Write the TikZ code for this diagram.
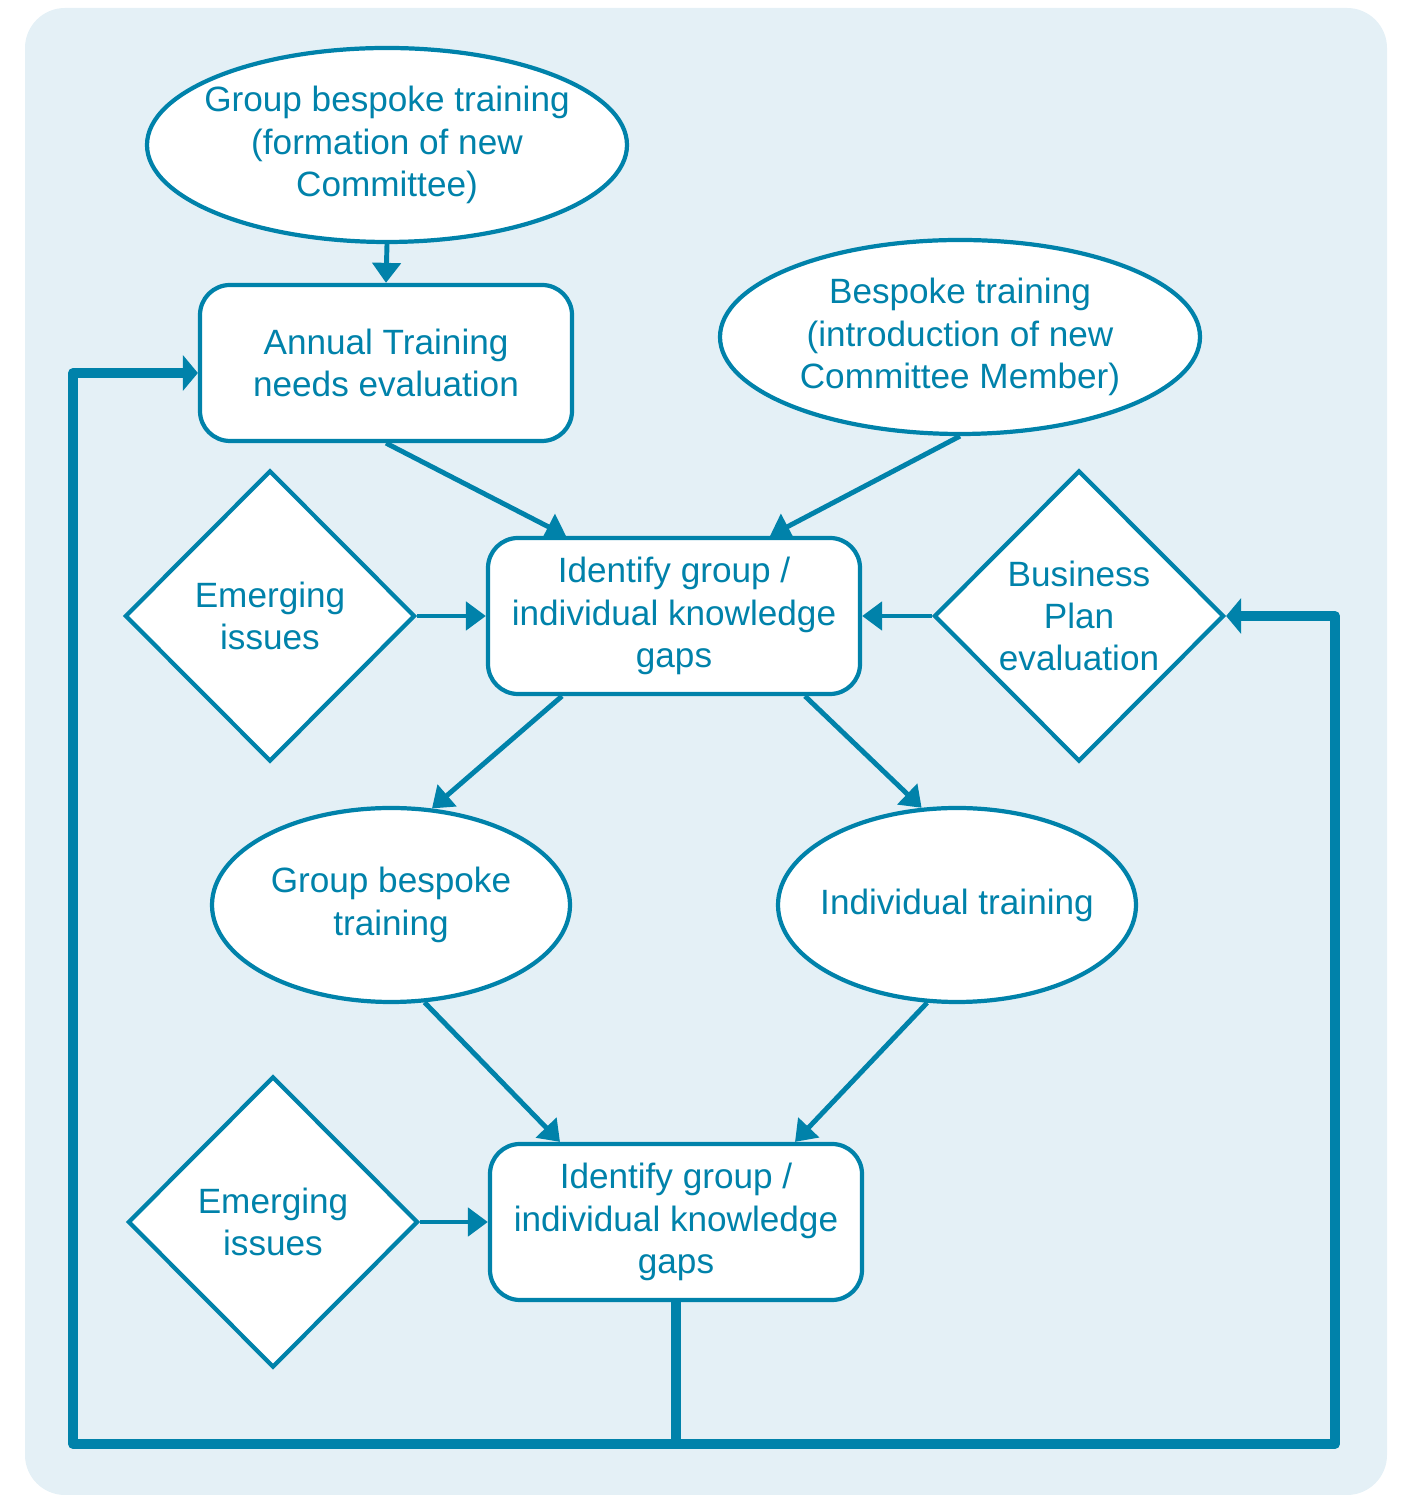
\documentclass[tikz,border=0pt]{standalone}
\usepackage{fontspec}
\setmainfont{Liberation Sans}
\usetikzlibrary{arrows.meta,calc,positioning,shapes.geometric}
\definecolor{tnblue}{HTML}{0082AA}
\definecolor{tnback}{HTML}{E4F0F6}

\begin{document}
\begin{tikzpicture}[
    every node/.style={font=\fontsize{10}{12}\selectfont, text=tnblue, align=center},
    oval/.style={ellipse, draw=tnblue, line width=1.2pt, fill=white,
                 minimum width=4.8cm, minimum height=1.94cm,
                 inner xsep=-0.6cm, inner ysep=-0.2cm},
    smalloval/.style={oval, minimum width=3.58cm},
    box/.style={rectangle, rounded corners=0.3cm, draw=tnblue, line width=1.2pt,
                fill=white, minimum width=3.72cm, minimum height=1.56cm, inner sep=0pt},
    choice/.style={diamond, draw=tnblue, line width=1.2pt, fill=white,
                   minimum width=2.9cm, minimum height=2.91cm, inner sep=0pt},
    arrow/.style={-{Triangle[length=2mm, width=2.8mm]}, line width=1.4pt, color=tnblue},
    loopline/.style={line width=2.8pt, color=tnblue, line join=round},
    looparrow/.style={loopline, -{Triangle[length=1.5mm, width=3.5mm]}}
  ]
    \useasboundingbox (0,0) rectangle (14.01,14.95);
    \fill[tnback, rounded corners=0.4cm] (0.25,0) rectangle (13.87,14.87);

    % nodes
    \node[oval]      (formation) at (3.87,13.50) {Group bespoke training\\(formation of new\\Committee)};
    \node[box]       (annual)    at (3.86,11.32) {Annual Training\\needs evaluation};
    \node[oval]      (newmember) at (9.60,11.58) {Bespoke training\\(introduction of new\\Committee Member)};
    \node[choice]    (emerge)    at (2.70,8.79)  {Emerging\\issues};
    \node[box]       (gaps)      at (6.74,8.79)  {Identify group /\\individual knowledge\\gaps};
    \node[choice]    (bizplan)   at (10.79,8.79) {Business\\Plan\\evaluation};
    \node[smalloval] (grouptr)   at (3.91,5.90)  {Group bespoke\\training};
    \node[smalloval] (indiv)     at (9.57,5.90)  {Individual training};
    \node[choice]    (emergetwo) at (2.73,2.73)  {Emerging\\issues};
    \node[box]       (gapstwo)   at (6.76,2.73)  {Identify group /\\individual knowledge\\gaps};

    % arrows
    \draw[arrow] (formation.south) -- (annual.north);
    \draw[arrow] (annual.south) -- ([xshift=-1.08cm]gaps.north);
    \draw[arrow] (newmember.south) -- ([xshift=0.96cm]gaps.north);
    \draw[arrow] (emerge.east) -- (gaps.west);
    \draw[arrow] (bizplan.west) -- (gaps.east);
    \draw[arrow] ([xshift=-1.12cm]gaps.south) -- (grouptr.67);
    \draw[arrow] ([xshift=1.31cm]gaps.south) -- (indiv.110);
    \draw[arrow] (grouptr.-71) -- ([xshift=-1.16cm]gapstwo.north);
    \draw[arrow] (indiv.-107) -- ([xshift=1.19cm]gapstwo.north);
    \draw[arrow] (emergetwo.east) -- (gapstwo.west);

    % feedback loop
    \coordinate (loopl) at (0.73,0.51);
    \coordinate (loopr) at (13.35,0.51);
    \draw[loopline] (gapstwo.south) -- (gapstwo.south |- loopl);
    \draw[looparrow] (gapstwo.south |- loopl) -- (loopl) |- ([yshift=-0.1cm]annual.west);
    \draw[looparrow] (gapstwo.south |- loopr) -- (loopr) |- (bizplan.east);
  \end{tikzpicture}
\end{document}
